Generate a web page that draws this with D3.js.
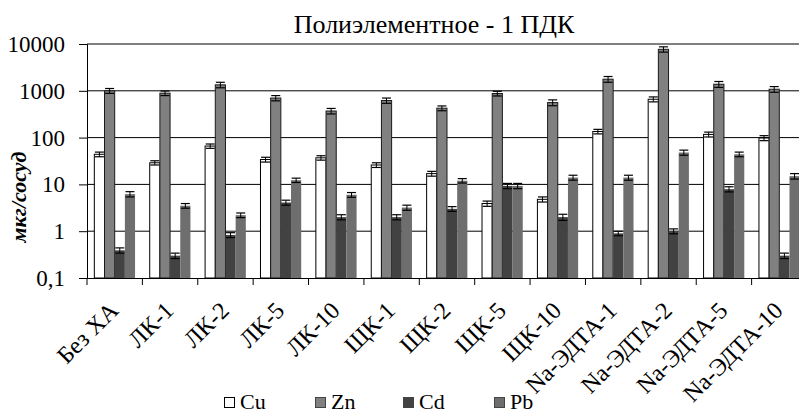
<!DOCTYPE html>
<html><head><meta charset="utf-8">
<script src="https://cdn.jsdelivr.net/npm/d3@7"></script>
<style>
body{margin:0;background:#fff;}
svg{display:block;}
</style></head>
<body>
<svg id="chart" width="799" height="416" font-family="'Liberation Serif', serif"></svg>
<script>
const categories = ["Без ХА","ЛК-1","ЛК-2","ЛК-5","ЛК-10","ЩК-1","ЩК-2","ЩК-5","ЩК-10","Na-ЭДТА-1","Na-ЭДТА-2","Na-ЭДТА-5","Na-ЭДТА-10"];
const seriesNames = ["Cu","Zn","Cd","Pb"];
const cuValues = [44, 29, 66, 34, 37, 26, 17, 3.9, 4.8, 135, 660, 117, 98];
const znValues = [1000, 890, 1340, 700, 370, 620, 425, 875, 560, 1770, 7700, 1380, 1080];
const cdValues = [0.39, 0.3, 0.83, 4.1, 2.0, 2.0, 3.0, 9.3, 2.0, 0.9, 1.0, 7.9, 0.3];
const pbValues = [6.2, 3.5, 2.2, 12.3, 6.0, 3.2, 12, 9.3, 14, 14, 48, 44, 15];
const cuErrors = [5, 3, 7, 4, 4, 3, 2, 0.5, 0.6, 15, 80, 14, 12];
const znErrors = [120, 100, 180, 90, 50, 80, 50, 100, 80, 250, 1000, 200, 150];
const cdErrors = [0.05, 0.04, 0.1, 0.5, 0.25, 0.25, 0.35, 1.2, 0.3, 0.1, 0.12, 1.0, 0.04];
const pbErrors = [0.8, 0.4, 0.25, 1.3, 0.7, 0.4, 1.3, 1.2, 1.7, 1.7, 6, 5, 2];
const yTicks = [0.1, 1, 10, 100, 1000, 10000];
const yTickLabels = ["0,1", "1", "10", "100", "1000", "10000"];

const seriesValues = [cuValues, znValues, cdValues, pbValues];
const seriesErrors = [cuErrors, znErrors, cdErrors, pbErrors];
const fills = ["#ffffff", "#808080", "#424242", "#6e6e6e"];
const strokes = ["#000000", "#1a1a1a", "none", "none"];
const FONT = "'Liberation Serif', serif";

const svg = d3.select("#chart");
const mLeft = 87, mRight = 807, mTop = 44, mBottom = 278;

const x = d3.scaleBand().domain(categories).range([mLeft, mRight]).paddingInner(0).paddingOuter(0);
const xs = d3.scaleBand().domain(seriesNames).range([0, x.bandwidth()]).paddingOuter(0.72).paddingInner(0);
const y = d3.scaleLog().domain([0.1, 10000]).range([mBottom, mTop]);

// gridlines
svg.append("g").selectAll("line").data(yTicks.slice(1)).join("line")
  .attr("x1", mLeft).attr("x2", mRight)
  .attr("y1", d => y(d)).attr("y2", d => y(d))
  .attr("stroke", "#000").attr("stroke-width", 1);

// y axis
const yAxis = d3.axisLeft(y).tickValues(yTicks).tickSize(8).tickFormat((d, i) => yTickLabels[i]);
const ga = svg.append("g").attr("transform", `translate(${mLeft},0)`).call(yAxis);
ga.attr("font-family", FONT);
ga.select(".domain").attr("stroke", "#000");
ga.selectAll(".tick line").attr("stroke", "#000");
ga.selectAll(".tick text").attr("font-size", 23).attr("font-family", FONT).attr("fill", "#000").attr("x", -22).attr("dy", "0.33em");

// bars
const groups = svg.append("g").selectAll("g").data(categories).join("g")
  .attr("transform", d => `translate(${x(d)},0)`);

seriesNames.forEach((s, si) => {
  groups.append("rect")
    .attr("x", xs(s))
    .attr("width", xs.bandwidth())
    .attr("y", (d, i) => y(seriesValues[si][i]))
    .attr("height", (d, i) => y(0.1) - y(seriesValues[si][i]))
    .attr("fill", fills[si])
    .attr("stroke", strokes[si])
    .attr("stroke-width", 1);
});

// error bars
seriesNames.forEach((s, si) => {
  const cx = xs(s) + xs.bandwidth() / 2;
  const eb = groups.append("g");
  eb.append("line")
    .attr("x1", cx).attr("x2", cx)
    .attr("y1", (d, i) => y(seriesValues[si][i] + seriesErrors[si][i]))
    .attr("y2", (d, i) => y(seriesValues[si][i] - seriesErrors[si][i]))
    .attr("stroke", "#000").attr("stroke-width", 1);
  [1, -1].forEach(sg => {
    eb.append("line")
      .attr("x1", cx - 4.5).attr("x2", cx + 4.5)
      .attr("y1", (d, i) => y(seriesValues[si][i] + sg * seriesErrors[si][i]))
      .attr("y2", (d, i) => y(seriesValues[si][i] + sg * seriesErrors[si][i]))
      .attr("stroke", "#000").attr("stroke-width", 1.2);
  });
});

// x axis
const xAxis = d3.axisBottom(x).tickSize(0).tickFormat("");
const gx = svg.append("g").attr("transform", `translate(0,${mBottom})`).call(xAxis);
gx.select(".domain").attr("stroke", "#000");
const bounds = categories.map(c => x(c)).concat([mRight]);
svg.append("g").selectAll("line").data(bounds).join("line")
  .attr("x1", d => d).attr("x2", d => d)
  .attr("y1", mBottom).attr("y2", mBottom + 7)
  .attr("stroke", "#000");

// x labels
svg.append("g").selectAll("text").data(categories).join("text")
  .attr("transform", d => `translate(${x(d) + x.bandwidth() / 2 + 5},${mBottom + 34}) rotate(-45)`)
  .attr("text-anchor", "end")
  .attr("font-family", FONT)
  .attr("font-size", 24)
  .attr("fill", "#000")
  .text(d => d);

// y title
svg.append("text")
  .attr("transform", `translate(26,197) rotate(-90)`)
  .attr("text-anchor", "middle")
  .attr("font-family", FONT)
  .attr("font-size", 22).attr("font-weight", "bold").attr("font-style", "italic")
  .attr("fill", "#000")
  .text("мкг/сосуд");

// title
svg.append("text")
  .attr("x", 434).attr("y", 33)
  .attr("text-anchor", "middle")
  .attr("font-family", FONT)
  .attr("font-size", 26)
  .attr("fill", "#000")
  .text("Полиэлементное - 1 ПДК");

// legend
const legendX = [224, 315, 403, 494];
const lg = svg.append("g").selectAll("g").data(seriesNames).join("g")
  .attr("transform", (d, i) => `translate(${legendX[i]},397)`);
lg.append("rect").attr("x", 0.5).attr("y", 0.5).attr("width", 10).attr("height", 10)
  .attr("fill", (d, i) => fills[i]).attr("stroke", (d, i) => i === 0 ? "#000" : "#444");
lg.append("text").attr("x", 16).attr("y", 12).attr("font-family", FONT).attr("font-size", 22).attr("fill", "#000").text(d => d);
</script>
</body></html>
